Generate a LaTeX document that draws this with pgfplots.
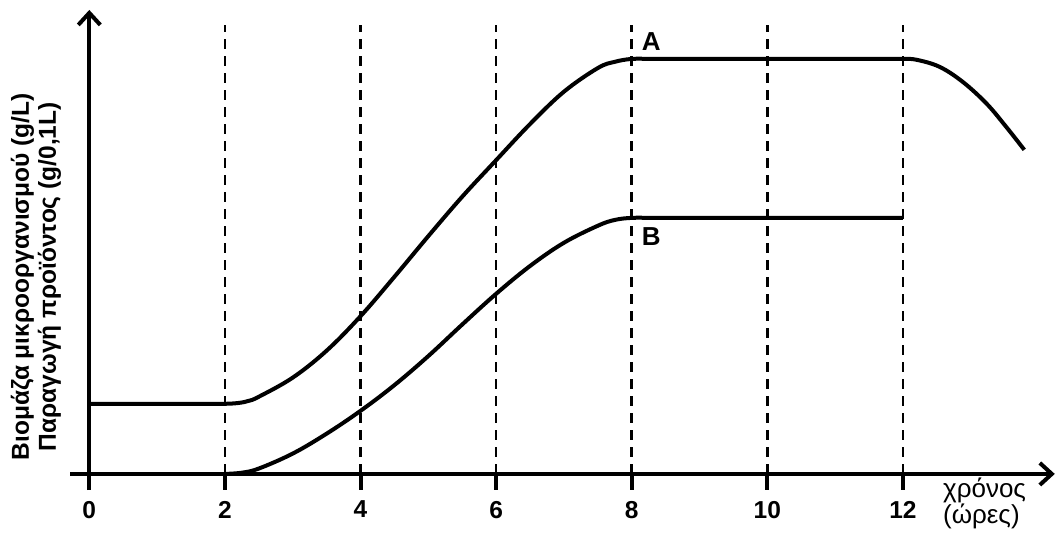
\documentclass[border=0pt]{standalone}
\usepackage{fontspec}
\setmainfont{Liberation Sans}
\usepackage{pgfplots}
\pgfplotsset{compat=1.18}
\usetikzlibrary{arrows.meta}

\begin{document}
\begin{tikzpicture}
\begin{axis}[
    x=67.8pt, y=41.5pt,
    xmin=-0.28, xmax=14.24,
    ymin=-0.39, ymax=11.18,
    axis lines=middle,
    axis line style={line width=4pt, -{Straight Barb[length=12pt,width=22pt,line width=4pt]}},
    xtick={0,2,...,12},
    ytick=\empty,
    hide obscured x ticks=false,
    tick align=outside,
    major tick length=16pt,
    tick style={line width=4pt, black},
    /pgf/number format/assume math mode=true,
    xticklabel style={font=\fontsize{24.5}{28}\selectfont\bfseries, inner sep=0pt, yshift=-11pt},
    clip=false,
]
% dashed guides
\addplot[line width=2.6pt, dash pattern=on 10pt off 7pt] coordinates {(2,0) (2,10.82)};
\addplot[line width=2.6pt, dash pattern=on 10pt off 7pt] coordinates {(4,0) (4,10.82)};
\addplot[line width=2.6pt, dash pattern=on 10pt off 7pt] coordinates {(6,0) (6,10.82)};
\addplot[line width=2.6pt, dash pattern=on 10pt off 7pt] coordinates {(8,0) (8,10.82)};
\addplot[line width=2.6pt, dash pattern=on 10pt off 7pt] coordinates {(10,0) (10,10.82)};
\addplot[line width=2.6pt, dash pattern=on 10pt off 7pt] coordinates {(12,0) (12,10.82)};

% curve A
\addplot[black, line width=4pt, smooth, tension=0.6] coordinates {
    (0,1.69) (1.4,1.69) (1.7,1.69) (2,1.69) (2.2,1.71) (2.35,1.76) (2.5,1.86)
    (3,2.32) (3.5,2.97) (4,3.80) (4.5,4.75) (5,5.73) (5.5,6.68) (6,7.56)
    (6.5,8.43) (7,9.21) (7.5,9.78) (7.75,9.93) (8,10) (8.3,10) (8.6,10)
    (11.4,10) (11.7,10) (12,10) (12.2,9.98) (12.54,9.81)
    (12.88,9.45) (13.23,8.93) (13.52,8.37) (13.79,7.81)
};
% curve B
\addplot[black, line width=4pt, smooth, tension=0.6] coordinates {
    (2,0) (2.25,0.03) (2.5,0.13) (3,0.49) (3.5,0.97) (4,1.52) (4.5,2.14)
    (5,2.84) (5.5,3.60) (6,4.34) (6.5,5.01) (7,5.57) (7.5,5.98) (7.75,6.12)
    (8,6.17) (8.3,6.17) (8.6,6.17) (12,6.17)
};

\node[anchor=west, font=\fontsize{26}{30}\selectfont\bfseries, inner sep=0pt] at (axis cs:8.147,10.43) {A};
\node[anchor=west, font=\fontsize{26}{30}\selectfont\bfseries, inner sep=0pt] at (axis cs:8.147,5.73) {B};
\node[anchor=west, align=left, font=\fontsize{26}{22}\selectfont, inner sep=0pt] at (axis cs:12.59,-0.70) {χρόνος\\(ώρες)};
\node[rotate=90, align=center, font=\fontsize{24.5}{27}\selectfont\bfseries, inner sep=0pt] at (axis cs:-0.786,4.75)
    {Βιομάζα μικροοργανισμού (g/L)\\Παραγωγή προϊόντος (g/0,1L)};

\coordinate (bl) at (axis cs:-1.317,-1.518);
\coordinate (tr) at (axis cs:14.258,11.42);
\end{axis}
\pgfresetboundingbox
\useasboundingbox (bl) rectangle (tr);
\end{tikzpicture}
\end{document}
